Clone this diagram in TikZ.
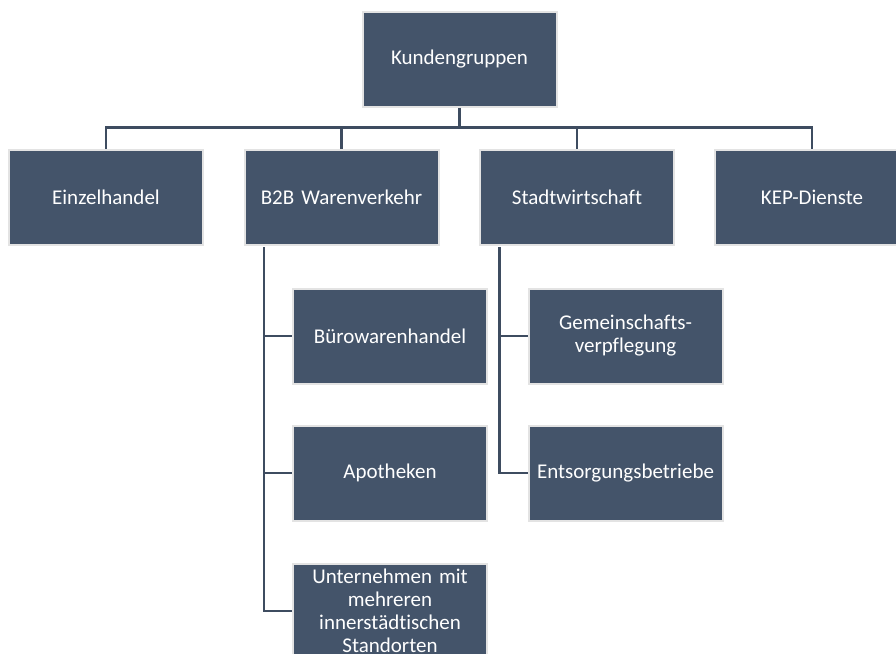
\documentclass[tikz,border=0pt]{standalone}
\usepackage{fontspec}
\setmainfont{Carlito}[Ligatures=NoCommon]
\definecolor{boxfill}{HTML}{44546A}
\definecolor{boxline}{HTML}{E3E3E3}
\definecolor{conn}{HTML}{3E4C60}
\begin{document}
\begin{tikzpicture}[x=1bp,y=-1bp,
  orgbox/.style={draw=boxline, line width=2bp, fill=boxfill, text=white,
    minimum width=194bp, minimum height=95bp, inner sep=2bp, align=center,
    font=\fontsize{21bp}{23bp}\selectfont, text width=188bp},
  link/.style={draw=conn, line width=2.2bp}]
\useasboundingbox (0,0) rectangle (896,654);
\clip (0,0) rectangle (896,654);
\node[orgbox] (root) at (459.5,59.5) {Kundengruppen};
\node[orgbox] (einzel) at (106,197.5) {Einzelhandel};
\node[orgbox] (b2b) at (341.5,197.5) {B2B Warenverkehr};
\node[orgbox] (stadt) at (577,197.5) {Stadtwirtschaft};
\node[orgbox] (kep) at (812,197.5) {KEP-Dienste};
\node[orgbox] (buero) at (390,336) {Bürowarenhandel};
\node[orgbox] (apo) at (390,473) {Apotheken};
\node[orgbox] (unter) at (390,611) {Unternehmen mit\\mehreren\\innerstädtischen\\Standorten};
\node[orgbox] (gemein) at (625.5,336) {Gemeinschafts-\\verpflegung};
\node[orgbox] (entsorg) at (625.5,473) {Entsorgungsbetriebe};
\coordinate (bus) at (459.5,127.5);
\draw[link] (root.south) -- (bus);
\draw[link] (einzel.north) |- (bus) -| (kep.north);
\draw[link] (b2b.north) -- (b2b.north |- bus);
\draw[link] (stadt.north) -- (stadt.north |- bus);
\coordinate (bt) at (264,247);
\coordinate (st) at (499.5,247);
\draw[link] (bt) |- (unter.west);
\draw[link] (bt |- buero.west) -- (buero.west);
\draw[link] (bt |- apo.west) -- (apo.west);
\draw[link] (st) |- (entsorg.west);
\draw[link] (st |- gemein.west) -- (gemein.west);
\end{tikzpicture}
\end{document}
